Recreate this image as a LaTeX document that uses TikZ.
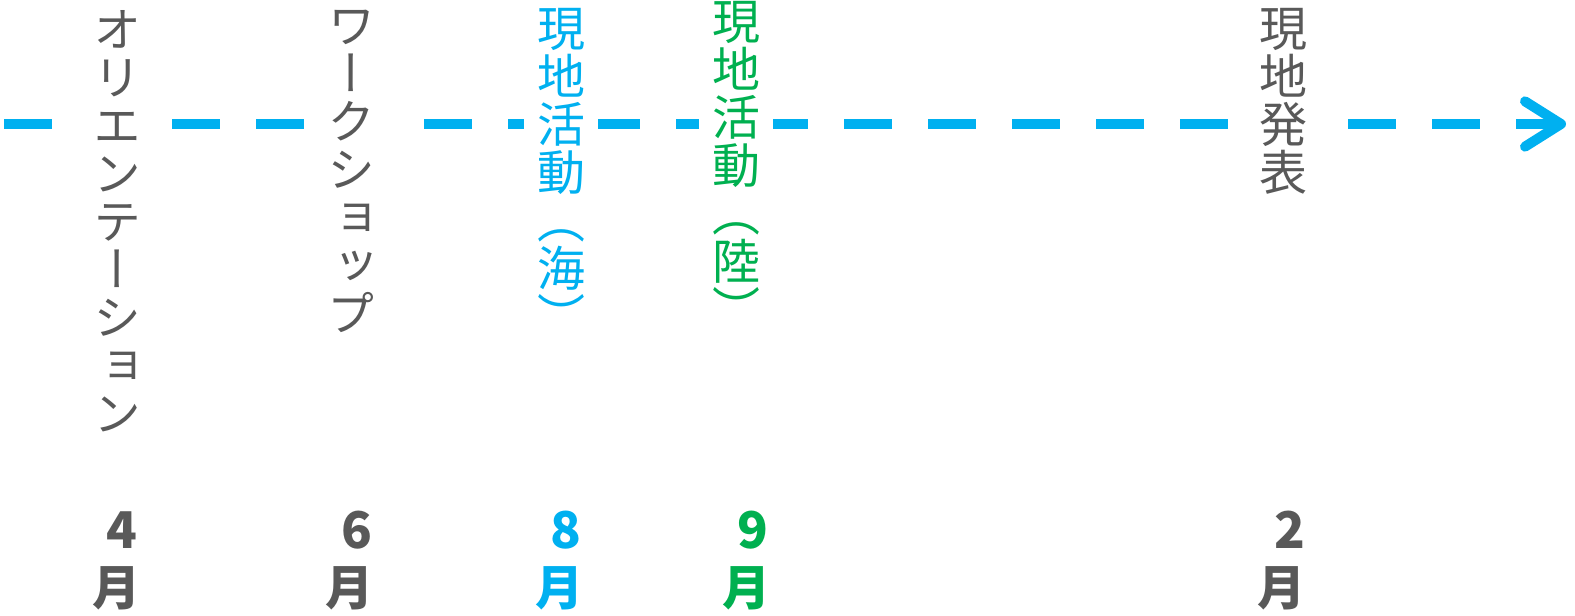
\documentclass[tikz,border=0pt]{standalone}
\usepackage{fontspec}
\usepackage{tikz}
\usetikzlibrary{arrows.meta}
\newfontfamily\jpfont[RawFeature=+vert]{Noto Sans CJK JP}
\definecolor{txtgray}{HTML}{595959}
\definecolor{seablue}{HTML}{00B0F0}
\definecolor{landgreen}{HTML}{00B050}

\begin{document}
\begin{tikzpicture}[x=0.75pt,y=0.75pt,yscale=-1,xscale=1,
  tate/.style={align=center,fill=white,inner xsep=10pt,inner ysep=0pt,
    font=\jpfont\fontsize{36}{36}\selectfont},
  month/.style={inner sep=0pt,font=\jpfont\bfseries\fontsize{36}{36}\selectfont},
  digit/.style={inner sep=0pt,font=\jpfont\bfseries\fontsize{38}{38}\selectfont},
  axis/.style={seablue,line width=7.5pt,dash pattern=on 36pt off 27pt,
    -{Straight Barb[length=27pt,width=34pt,line width=7.5pt,round]}}]
\useasboundingbox (0,0) rectangle (1575,616);

%Time axis
\coordinate (start) at (4,124);
\coordinate (end) at (1566,124);
\draw[axis] (start) -- (end);

% Text Node
\node[tate,text=txtgray,anchor=north] (orient) at (117,10) {オ\\リ\\エ\\ン\\テ\\ー\\シ\\ョ\\ン};
% Text Node
\node[tate,text=txtgray,anchor=north] (wshop) at (351,10) {ワ\\ー\\ク\\シ\\ョ\\ッ\\プ};
% Text Node
\node[tate,text=seablue,anchor=north] (umi) at (561,8) {現\\地\\活\\動\\（\\海\\）};
% Text Node
\node[tate,text=landgreen,anchor=north] (riku) at (736,1) {現\\地\\活\\動\\（\\陸\\）};
% Text Node
\node[tate,text=txtgray,anchor=north] (happyo) at (1283,8) {現\\地\\発\\表};

% Months
\node[digit,text=txtgray] (n4) at (122,530) {4};
\node[month,text=txtgray] (t4) at (116,588) {月};
\node[digit,text=txtgray] (n6) at (357,530) {6};
\node[month,text=txtgray] (t6) at (349,588) {月};
\node[digit,text=seablue] (n8) at (566,530) {8};
\node[month,text=seablue] (t8) at (559,588) {月};
\node[digit,text=landgreen] (n9) at (753,530) {9};
\node[month,text=landgreen] (t9) at (746,588) {月};
\node[digit,text=txtgray] (n2) at (1290,530) {2};
\node[month,text=txtgray] (t2) at (1281,588) {月};

\end{tikzpicture}
\end{document}
